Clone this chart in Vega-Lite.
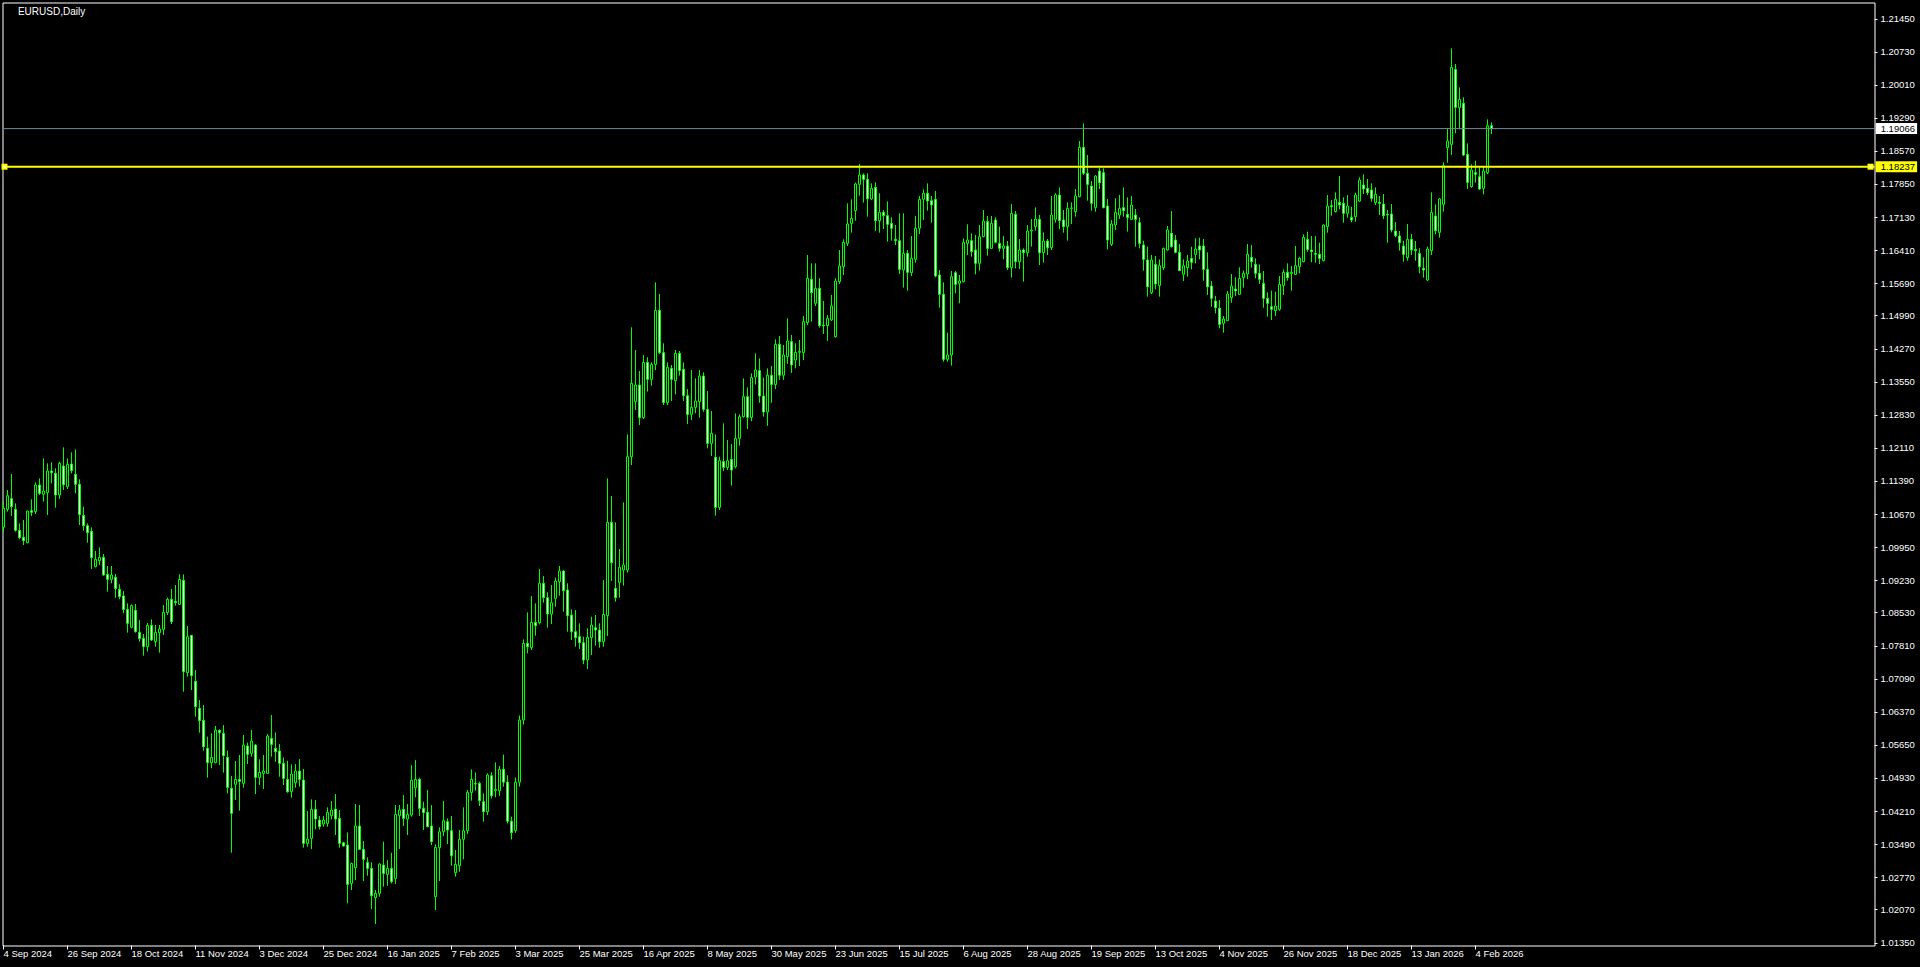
{
"$schema": "https://vega.github.io/schema/vega-lite/v6.json",
"width": 1872,
"height": 943,
"autosize": {"type": "none"},
"padding": {"left": 2.5, "top": 2.5, "right": 45.5, "bottom": 21.5},
"background": "#000000",
"config": {"view": {"stroke": "#ffffff", "strokeWidth": 1, "fill": "#000000"}, "scale": {"continuousPadding": 0}, "axis": {"labelOverlap": false, "labelFlush": false, "labelBound": false}},
"datasets": {
"ohlc": [
{"i":0,"o":1.10392,"h":1.10951,"l":1.10298,"c":1.10806},
{"i":1,"o":1.10784,"h":1.11204,"l":1.10733,"c":1.11081},
{"i":2,"o":1.11016,"h":1.11552,"l":1.10639,"c":1.10842},
{"i":3,"o":1.10784,"h":1.10914,"l":1.10298,"c":1.10327},
{"i":4,"o":1.10327,"h":1.10479,"l":1.10131,"c":1.10167},
{"i":5,"o":1.10175,"h":1.10552,"l":1.10008,"c":1.10102},
{"i":6,"o":1.10059,"h":1.10755,"l":1.10044,"c":1.10747},
{"i":7,"o":1.10755,"h":1.11001,"l":1.10639,"c":1.10719},
{"i":8,"o":1.10733,"h":1.11371,"l":1.10682,"c":1.11313},
{"i":9,"o":1.11313,"h":1.11458,"l":1.11096,"c":1.11132},
{"i":10,"o":1.1111,"h":1.11893,"l":1.10951,"c":1.11183},
{"i":11,"o":1.11146,"h":1.11784,"l":1.10661,"c":1.11618},
{"i":12,"o":1.11618,"h":1.11806,"l":1.11349,"c":1.11581},
{"i":13,"o":1.11567,"h":1.11676,"l":1.1082,"c":1.11096},
{"i":14,"o":1.11096,"h":1.11821,"l":1.11009,"c":1.11784},
{"i":15,"o":1.11726,"h":1.12132,"l":1.11204,"c":1.1132},
{"i":16,"o":1.11277,"h":1.11893,"l":1.11226,"c":1.11763},
{"i":17,"o":1.1177,"h":1.12024,"l":1.11567,"c":1.11625},
{"i":18,"o":1.11545,"h":1.12089,"l":1.11132,"c":1.11328},
{"i":19,"o":1.11328,"h":1.11436,"l":1.10443,"c":1.10668},
{"i":20,"o":1.10653,"h":1.10842,"l":1.1032,"c":1.10428},
{"i":21,"o":1.10428,"h":1.10479,"l":1.10059,"c":1.10276},
{"i":22,"o":1.10305,"h":1.10392,"l":1.09486,"c":1.09732},
{"i":23,"o":1.09537,"h":1.09877,"l":1.0952,"c":1.09696},
{"i":24,"o":1.09667,"h":1.09957,"l":1.09573,"c":1.0974},
{"i":25,"o":1.0974,"h":1.09812,"l":1.09341,"c":1.09355},
{"i":26,"o":1.0937,"h":1.09551,"l":1.08993,"c":1.09261},
{"i":27,"o":1.09261,"h":1.09551,"l":1.09174,"c":1.09355},
{"i":28,"o":1.09305,"h":1.09377,"l":1.08862,"c":1.09058},
{"i":29,"o":1.09044,"h":1.09152,"l":1.08826,"c":1.08884},
{"i":30,"o":1.08899,"h":1.09007,"l":1.08521,"c":1.08608},
{"i":31,"o":1.08608,"h":1.08739,"l":1.08101,"c":1.08304},
{"i":32,"o":1.08217,"h":1.08717,"l":1.08195,"c":1.08688},
{"i":33,"o":1.08587,"h":1.08725,"l":1.08101,"c":1.08123},
{"i":34,"o":1.08108,"h":1.08376,"l":1.07905,"c":1.0797},
{"i":35,"o":1.07978,"h":1.08072,"l":1.07601,"c":1.07796},
{"i":36,"o":1.07796,"h":1.08311,"l":1.07688,"c":1.0826},
{"i":37,"o":1.0826,"h":1.08391,"l":1.0792,"c":1.07941},
{"i":38,"o":1.07905,"h":1.08268,"l":1.07796,"c":1.08108},
{"i":39,"o":1.08101,"h":1.08268,"l":1.07666,"c":1.08181},
{"i":40,"o":1.08173,"h":1.08703,"l":1.0805,"c":1.08543},
{"i":41,"o":1.08536,"h":1.08862,"l":1.08485,"c":1.08826},
{"i":42,"o":1.08826,"h":1.09051,"l":1.08289,"c":1.0834},
{"i":43,"o":1.08783,"h":1.09138,"l":1.08688,"c":1.08754},
{"i":44,"o":1.08717,"h":1.0937,"l":1.08703,"c":1.09261},
{"i":45,"o":1.09239,"h":1.0937,"l":1.06817,"c":1.07252},
{"i":46,"o":1.07231,"h":1.08246,"l":1.07144,"c":1.08014},
{"i":47,"o":1.08043,"h":1.0805,"l":1.06854,"c":1.07166},
{"i":48,"o":1.07042,"h":1.07289,"l":1.06274,"c":1.06491},
{"i":49,"o":1.06455,"h":1.06636,"l":1.05926,"c":1.06187},
{"i":50,"o":1.06194,"h":1.06527,"l":1.05534,"c":1.05621},
{"i":51,"o":1.05585,"h":1.05839,"l":1.04947,"c":1.05273},
{"i":52,"o":1.05273,"h":1.05911,"l":1.0515,"c":1.05389},
{"i":53,"o":1.05273,"h":1.06071,"l":1.0526,"c":1.05984},
{"i":54,"o":1.05976,"h":1.05998,"l":1.05222,"c":1.05926},
{"i":55,"o":1.05911,"h":1.06092,"l":1.05056,"c":1.05425},
{"i":56,"o":1.05389,"h":1.05534,"l":1.04606,"c":1.04736},
{"i":57,"o":1.04715,"h":1.04983,"l":1.03315,"c":1.04171},
{"i":58,"o":1.04802,"h":1.05309,"l":1.04461,"c":1.0491},
{"i":59,"o":1.0491,"h":1.0544,"l":1.04229,"c":1.04867},
{"i":60,"o":1.04823,"h":1.05875,"l":1.04729,"c":1.05657},
{"i":61,"o":1.05636,"h":1.05708,"l":1.05244,"c":1.05454},
{"i":62,"o":1.05475,"h":1.05983,"l":1.05403,"c":1.05744},
{"i":63,"o":1.05657,"h":1.05678,"l":1.04591,"c":1.04953},
{"i":64,"o":1.04953,"h":1.05345,"l":1.04786,"c":1.05062},
{"i":65,"o":1.0504,"h":1.05439,"l":1.04699,"c":1.05091},
{"i":66,"o":1.0504,"h":1.05896,"l":1.05026,"c":1.05852},
{"i":67,"o":1.05802,"h":1.06309,"l":1.05403,"c":1.05671},
{"i":68,"o":1.05584,"h":1.05932,"l":1.05294,"c":1.05511},
{"i":69,"o":1.05526,"h":1.05678,"l":1.04968,"c":1.05258},
{"i":70,"o":1.05258,"h":1.05388,"l":1.04786,"c":1.04931},
{"i":71,"o":1.0491,"h":1.05316,"l":1.0462,"c":1.04641},
{"i":72,"o":1.04641,"h":1.05236,"l":1.04511,"c":1.05026},
{"i":73,"o":1.04837,"h":1.05243,"l":1.04728,"c":1.05091},
{"i":74,"o":1.05091,"h":1.05352,"l":1.0475,"c":1.0491},
{"i":75,"o":1.04895,"h":1.05135,"l":1.03423,"c":1.03518},
{"i":76,"o":1.03518,"h":1.04221,"l":1.03445,"c":1.03612},
{"i":77,"o":1.03626,"h":1.04475,"l":1.03394,"c":1.04257},
{"i":78,"o":1.04257,"h":1.0446,"l":1.03822,"c":1.04047},
{"i":79,"o":1.04025,"h":1.04112,"l":1.03822,"c":1.0388},
{"i":80,"o":1.03938,"h":1.04112,"l":1.0388,"c":1.04025},
{"i":81,"o":1.03953,"h":1.04301,"l":1.0388,"c":1.04192},
{"i":82,"o":1.04119,"h":1.04438,"l":1.0404,"c":1.04243},
{"i":83,"o":1.04264,"h":1.04591,"l":1.03699,"c":1.04047},
{"i":84,"o":1.04061,"h":1.04243,"l":1.03423,"c":1.03518},
{"i":85,"o":1.03532,"h":1.0355,"l":1.0345,"c":1.0346},
{"i":86,"o":1.03481,"h":1.03757,"l":1.02212,"c":1.02626},
{"i":87,"o":1.02647,"h":1.03097,"l":1.02502,"c":1.03082},
{"i":88,"o":1.02988,"h":1.04373,"l":1.0272,"c":1.03895},
{"i":89,"o":1.03895,"h":1.04351,"l":1.03373,"c":1.03387},
{"i":90,"o":1.03387,"h":1.03568,"l":1.02698,"c":1.03169},
{"i":91,"o":1.03104,"h":1.03213,"l":1.02814,"c":1.02974},
{"i":92,"o":1.02974,"h":1.03104,"l":1.02089,"c":1.02379},
{"i":93,"o":1.02336,"h":1.02502,"l":1.01763,"c":1.0243},
{"i":94,"o":1.0243,"h":1.03082,"l":1.02357,"c":1.03068},
{"i":95,"o":1.03046,"h":1.03554,"l":1.02575,"c":1.02865},
{"i":96,"o":1.02843,"h":1.03155,"l":1.02597,"c":1.02974},
{"i":97,"o":1.02974,"h":1.03315,"l":1.02647,"c":1.02684},
{"i":98,"o":1.02756,"h":1.04351,"l":1.02633,"c":1.04148},
{"i":99,"o":1.04119,"h":1.04351,"l":1.03394,"c":1.04243},
{"i":100,"o":1.04257,"h":1.04569,"l":1.03895,"c":1.04061},
{"i":101,"o":1.04047,"h":1.04373,"l":1.03699,"c":1.04148},
{"i":102,"o":1.04134,"h":1.05221,"l":1.04098,"c":1.04895},
{"i":103,"o":1.04728,"h":1.0533,"l":1.04518,"c":1.0491},
{"i":104,"o":1.0491,"h":1.04946,"l":1.04112,"c":1.04279},
{"i":105,"o":1.04279,"h":1.04424,"l":1.03808,"c":1.04185},
{"i":106,"o":1.04192,"h":1.04678,"l":1.03866,"c":1.0388},
{"i":107,"o":1.03895,"h":1.04351,"l":1.03481,"c":1.03554},
{"i":108,"o":1.02357,"h":1.03496,"l":1.02067,"c":1.03431},
{"i":109,"o":1.03423,"h":1.03866,"l":1.02698,"c":1.03771},
{"i":110,"o":1.03771,"h":1.04438,"l":1.03677,"c":1.04011},
{"i":111,"o":1.03989,"h":1.04061,"l":1.03503,"c":1.03808},
{"i":112,"o":1.03793,"h":1.04112,"l":1.03032,"c":1.03249},
{"i":113,"o":1.02879,"h":1.03373,"l":1.02792,"c":1.03061},
{"i":114,"o":1.03032,"h":1.03808,"l":1.02901,"c":1.03605},
{"i":115,"o":1.03605,"h":1.04301,"l":1.03169,"c":1.03793},
{"i":116,"o":1.03793,"h":1.04678,"l":1.03721,"c":1.04627},
{"i":117,"o":1.04627,"h":1.05127,"l":1.04446,"c":1.0491},
{"i":118,"o":1.04823,"h":1.05062,"l":1.04663,"c":1.04808},
{"i":119,"o":1.04823,"h":1.04859,"l":1.0433,"c":1.04446},
{"i":120,"o":1.04424,"h":1.04605,"l":1.03989,"c":1.04206},
{"i":121,"o":1.04206,"h":1.0504,"l":1.04134,"c":1.05004},
{"i":122,"o":1.04989,"h":1.05062,"l":1.04496,"c":1.04554},
{"i":123,"o":1.04663,"h":1.0528,"l":1.04518,"c":1.04692},
{"i":124,"o":1.04663,"h":1.052,"l":1.04547,"c":1.05127},
{"i":125,"o":1.0513,"h":1.0545,"l":1.0475,"c":1.0485},
{"i":126,"o":1.0485,"h":1.05,"l":1.0395,"c":1.04},
{"i":127,"o":1.04,"h":1.041,"l":1.036,"c":1.0375},
{"i":128,"o":1.038,"h":1.0495,"l":1.0375,"c":1.0485},
{"i":129,"o":1.0485,"h":1.063,"l":1.0475,"c":1.062},
{"i":130,"o":1.062,"h":1.07956,"l":1.061,"c":1.07869},
{"i":131,"o":1.07869,"h":1.08543,"l":1.07651,"c":1.07796},
{"i":132,"o":1.07774,"h":1.08898,"l":1.07724,"c":1.08325},
{"i":133,"o":1.08325,"h":1.08739,"l":1.08035,"c":1.08253},
{"i":134,"o":1.08318,"h":1.09486,"l":1.08282,"c":1.09174},
{"i":135,"o":1.09174,"h":1.09333,"l":1.08753,"c":1.08862},
{"i":136,"o":1.08862,"h":1.08978,"l":1.08209,"c":1.08507},
{"i":137,"o":1.08507,"h":1.09138,"l":1.08289,"c":1.08753},
{"i":138,"o":1.08848,"h":1.09297,"l":1.08666,"c":1.09225},
{"i":139,"o":1.0921,"h":1.09551,"l":1.08906,"c":1.09442},
{"i":140,"o":1.09442,"h":1.09464,"l":1.08557,"c":1.09014},
{"i":141,"o":1.09029,"h":1.09174,"l":1.08122,"c":1.0847},
{"i":142,"o":1.08485,"h":1.08608,"l":1.07941,"c":1.08122},
{"i":143,"o":1.08122,"h":1.08594,"l":1.07796,"c":1.07992},
{"i":144,"o":1.08014,"h":1.08304,"l":1.07745,"c":1.07883},
{"i":145,"o":1.07883,"h":1.08014,"l":1.07419,"c":1.07506},
{"i":146,"o":1.07506,"h":1.08195,"l":1.0731,"c":1.07999},
{"i":147,"o":1.07992,"h":1.08449,"l":1.07615,"c":1.08267},
{"i":148,"o":1.08209,"h":1.08485,"l":1.07818,"c":1.08159},
{"i":149,"o":1.08159,"h":1.08304,"l":1.07774,"c":1.07905},
{"i":150,"o":1.07905,"h":1.09246,"l":1.07796,"c":1.08499},
{"i":151,"o":1.0847,"h":1.11458,"l":1.08028,"c":1.10501},
{"i":152,"o":1.10501,"h":1.11074,"l":1.09225,"c":1.09623},
{"i":153,"o":1.09065,"h":1.10501,"l":1.08775,"c":1.08862},
{"i":154,"o":1.09196,"h":1.09921,"l":1.08862,"c":1.09522},
{"i":155,"o":1.09464,"h":1.10936,"l":1.09123,"c":1.09573},
{"i":156,"o":1.09464,"h":1.12415,"l":1.09406,"c":1.11929},
{"i":157,"o":1.11929,"h":1.14743,"l":1.11748,"c":1.13524},
{"i":158,"o":1.13126,"h":1.1425,"l":1.12944,"c":1.13488},
{"i":159,"o":1.13488,"h":1.13793,"l":1.12618,"c":1.12778},
{"i":160,"o":1.12778,"h":1.14141,"l":1.12749,"c":1.13981},
{"i":161,"o":1.13981,"h":1.1409,"l":1.13343,"c":1.13611},
{"i":162,"o":1.13611,"h":1.13981,"l":1.13474,"c":1.13938},
{"i":163,"o":1.13938,"h":1.15721,"l":1.13814,"c":1.15112},
{"i":164,"o":1.15112,"h":1.15468,"l":1.14162,"c":1.14192},
{"i":165,"o":1.14192,"h":1.14395,"l":1.13053,"c":1.13104},
{"i":166,"o":1.13104,"h":1.13981,"l":1.13053,"c":1.13872},
{"i":167,"o":1.13851,"h":1.13923,"l":1.1314,"c":1.13611},
{"i":168,"o":1.13582,"h":1.1425,"l":1.13285,"c":1.14177},
{"i":169,"o":1.14177,"h":1.14228,"l":1.13691,"c":1.138},
{"i":170,"o":1.13829,"h":1.13981,"l":1.1314,"c":1.13256},
{"i":171,"o":1.13256,"h":1.13401,"l":1.1264,"c":1.1285},
{"i":172,"o":1.1285,"h":1.13814,"l":1.12727,"c":1.13002},
{"i":173,"o":1.13002,"h":1.13633,"l":1.12872,"c":1.1314},
{"i":174,"o":1.13126,"h":1.13814,"l":1.12778,"c":1.13684},
{"i":175,"o":1.13684,"h":1.13764,"l":1.12908,"c":1.12959},
{"i":176,"o":1.12959,"h":1.13358,"l":1.1211,"c":1.12219},
{"i":177,"o":1.12219,"h":1.12923,"l":1.11944,"c":1.12437},
{"i":178,"o":1.11915,"h":1.12415,"l":1.10646,"c":1.10827},
{"i":179,"o":1.10827,"h":1.11929,"l":1.10769,"c":1.11842},
{"i":180,"o":1.1182,"h":1.12654,"l":1.11617,"c":1.11697},
{"i":181,"o":1.11697,"h":1.12292,"l":1.11639,"c":1.11842},
{"i":182,"o":1.11871,"h":1.12205,"l":1.11298,"c":1.11639},
{"i":183,"o":1.11712,"h":1.12872,"l":1.11675,"c":1.12328},
{"i":184,"o":1.12328,"h":1.1285,"l":1.12168,"c":1.12799},
{"i":185,"o":1.12799,"h":1.13633,"l":1.12778,"c":1.13234},
{"i":186,"o":1.13234,"h":1.13437,"l":1.12531,"c":1.12785},
{"i":187,"o":1.12785,"h":1.13742,"l":1.127,"c":1.1365},
{"i":188,"o":1.1366,"h":1.14177,"l":1.135,"c":1.13815},
{"i":189,"o":1.13801,"h":1.14069,"l":1.131,"c":1.1325},
{"i":190,"o":1.1325,"h":1.1365,"l":1.128,"c":1.129},
{"i":191,"o":1.129,"h":1.13851,"l":1.126,"c":1.137},
{"i":192,"o":1.137,"h":1.13902,"l":1.131,"c":1.135},
{"i":193,"o":1.135,"h":1.14482,"l":1.134,"c":1.14373},
{"i":194,"o":1.14373,"h":1.14554,"l":1.136,"c":1.137},
{"i":195,"o":1.137,"h":1.14359,"l":1.136,"c":1.14141},
{"i":196,"o":1.14105,"h":1.14939,"l":1.1395,"c":1.14446},
{"i":197,"o":1.14431,"h":1.14576,"l":1.1375,"c":1.13924},
{"i":198,"o":1.14032,"h":1.14395,"l":1.1385,"c":1.14199},
{"i":199,"o":1.142,"h":1.14467,"l":1.139,"c":1.1422},
{"i":200,"o":1.14192,"h":1.1499,"l":1.14032,"c":1.14866},
{"i":201,"o":1.14845,"h":1.16316,"l":1.14794,"c":1.15809},
{"i":202,"o":1.15787,"h":1.16135,"l":1.14866,"c":1.15497},
{"i":203,"o":1.15265,"h":1.16135,"l":1.15207,"c":1.15591},
{"i":204,"o":1.15591,"h":1.15809,"l":1.14736,"c":1.14779},
{"i":205,"o":1.14793,"h":1.15316,"l":1.14598,"c":1.14779},
{"i":206,"o":1.14779,"h":1.15011,"l":1.14446,"c":1.14939},
{"i":207,"o":1.14903,"h":1.15446,"l":1.14881,"c":1.15207},
{"i":208,"o":1.1454,"h":1.15809,"l":1.14518,"c":1.15751},
{"i":209,"o":1.15736,"h":1.16425,"l":1.15686,"c":1.16077},
{"i":210,"o":1.16063,"h":1.16657,"l":1.15881,"c":1.16592},
{"i":211,"o":1.1657,"h":1.1744,"l":1.16512,"c":1.16991},
{"i":212,"o":1.17005,"h":1.17527,"l":1.16802,"c":1.17114},
{"i":213,"o":1.17281,"h":1.1789,"l":1.17063,"c":1.17861},
{"i":214,"o":1.17854,"h":1.18296,"l":1.17607,"c":1.18057},
{"i":215,"o":1.18057,"h":1.18093,"l":1.17455,"c":1.17962},
{"i":216,"o":1.17962,"h":1.18093,"l":1.1715,"c":1.17542},
{"i":217,"o":1.17535,"h":1.17875,"l":1.17513,"c":1.17767},
{"i":218,"o":1.17788,"h":1.17897,"l":1.16838,"c":1.17063},
{"i":219,"o":1.17063,"h":1.17658,"l":1.16802,"c":1.17245},
{"i":220,"o":1.17245,"h":1.17295,"l":1.16882,"c":1.17172},
{"i":221,"o":1.17172,"h":1.17484,"l":1.16607,"c":1.16984},
{"i":222,"o":1.17005,"h":1.17136,"l":1.16628,"c":1.16897},
{"i":223,"o":1.16657,"h":1.16969,"l":1.16534,"c":1.16628},
{"i":224,"o":1.16628,"h":1.17223,"l":1.15903,"c":1.16005},
{"i":225,"o":1.1599,"h":1.17223,"l":1.15606,"c":1.16353},
{"i":226,"o":1.16353,"h":1.16425,"l":1.15541,"c":1.15939},
{"i":227,"o":1.15932,"h":1.1673,"l":1.1586,"c":1.16244},
{"i":228,"o":1.16222,"h":1.17165,"l":1.1615,"c":1.16897},
{"i":229,"o":1.16897,"h":1.176,"l":1.16773,"c":1.17527},
{"i":230,"o":1.17527,"h":1.17745,"l":1.17078,"c":1.17658},
{"i":231,"o":1.17658,"h":1.17875,"l":1.17281,"c":1.17491},
{"i":232,"o":1.17498,"h":1.176,"l":1.1702,"c":1.17404},
{"i":233,"o":1.17527,"h":1.17709,"l":1.15831,"c":1.1586},
{"i":234,"o":1.15881,"h":1.1599,"l":1.15171,"c":1.15461},
{"i":235,"o":1.15461,"h":1.15722,"l":1.13996,"c":1.14047},
{"i":236,"o":1.14047,"h":1.14627,"l":1.13996,"c":1.14141},
{"i":237,"o":1.14141,"h":1.15968,"l":1.13909,"c":1.15845},
{"i":238,"o":1.15932,"h":1.15968,"l":1.15483,"c":1.15678},
{"i":239,"o":1.157,"h":1.15881,"l":1.15265,"c":1.15751},
{"i":240,"o":1.15736,"h":1.16679,"l":1.1572,"c":1.16592},
{"i":241,"o":1.1657,"h":1.16984,"l":1.16316,"c":1.16643},
{"i":242,"o":1.16628,"h":1.16788,"l":1.1628,"c":1.16389},
{"i":243,"o":1.16425,"h":1.16752,"l":1.15896,"c":1.16135},
{"i":244,"o":1.16135,"h":1.16969,"l":1.15976,"c":1.16715},
{"i":245,"o":1.16715,"h":1.17295,"l":1.16701,"c":1.17056},
{"i":246,"o":1.17042,"h":1.17165,"l":1.16302,"c":1.16461},
{"i":247,"o":1.16461,"h":1.17165,"l":1.16455,"c":1.17005},
{"i":248,"o":1.17078,"h":1.17136,"l":1.1657,"c":1.16592},
{"i":249,"o":1.1657,"h":1.16933,"l":1.16389,"c":1.16461},
{"i":250,"o":1.16461,"h":1.1673,"l":1.16222,"c":1.16512},
{"i":251,"o":1.16512,"h":1.16621,"l":1.1599,"c":1.16041},
{"i":252,"o":1.16041,"h":1.17426,"l":1.15823,"c":1.17223},
{"i":253,"o":1.17201,"h":1.17273,"l":1.16026,"c":1.16171},
{"i":254,"o":1.16171,"h":1.16664,"l":1.16012,"c":1.16425},
{"i":255,"o":1.16425,"h":1.16461,"l":1.15736,"c":1.16367},
{"i":256,"o":1.16367,"h":1.16969,"l":1.1628,"c":1.16838},
{"i":257,"o":1.16838,"h":1.17099,"l":1.16498,"c":1.1686},
{"i":258,"o":1.16933,"h":1.17353,"l":1.16846,"c":1.17099},
{"i":259,"o":1.17092,"h":1.17186,"l":1.16099,"c":1.16367},
{"i":260,"o":1.16367,"h":1.16809,"l":1.1615,"c":1.16621},
{"i":261,"o":1.16621,"h":1.16664,"l":1.16316,"c":1.16476},
{"i":262,"o":1.16476,"h":1.176,"l":1.16425,"c":1.17186},
{"i":263,"o":1.17092,"h":1.17658,"l":1.1702,"c":1.17622},
{"i":264,"o":1.17622,"h":1.17788,"l":1.16875,"c":1.17063},
{"i":265,"o":1.17078,"h":1.17295,"l":1.16802,"c":1.16933},
{"i":266,"o":1.16933,"h":1.17462,"l":1.16628,"c":1.17331},
{"i":267,"o":1.17331,"h":1.17462,"l":1.16991,"c":1.1734},
{"i":268,"o":1.17259,"h":1.17752,"l":1.1715,"c":1.176},
{"i":269,"o":1.17585,"h":1.18796,"l":1.17571,"c":1.18658},
{"i":270,"o":1.18658,"h":1.1918,"l":1.18057,"c":1.18093},
{"i":271,"o":1.18093,"h":1.18492,"l":1.17498,"c":1.17854},
{"i":272,"o":1.17817,"h":1.17926,"l":1.17281,"c":1.1744},
{"i":273,"o":1.17346,"h":1.1805,"l":1.17259,"c":1.18035},
{"i":274,"o":1.18144,"h":1.18216,"l":1.17752,"c":1.1789},
{"i":275,"o":1.18107,"h":1.18202,"l":1.17331,"c":1.17346},
{"i":276,"o":1.17382,"h":1.17535,"l":1.1644,"c":1.16643},
{"i":277,"o":1.16548,"h":1.17078,"l":1.16512,"c":1.16991},
{"i":278,"o":1.16969,"h":1.17549,"l":1.1686,"c":1.17244},
{"i":279,"o":1.17186,"h":1.17622,"l":1.17099,"c":1.17331},
{"i":280,"o":1.17346,"h":1.17788,"l":1.1715,"c":1.17281},
{"i":281,"o":1.17201,"h":1.17571,"l":1.16824,"c":1.17128},
{"i":282,"o":1.17092,"h":1.176,"l":1.17078,"c":1.17404},
{"i":283,"o":1.17186,"h":1.17317,"l":1.16498,"c":1.17092},
{"i":284,"o":1.1702,"h":1.17136,"l":1.16461,"c":1.1657},
{"i":285,"o":1.16534,"h":1.16628,"l":1.15976,"c":1.16222},
{"i":286,"o":1.16208,"h":1.16498,"l":1.1541,"c":1.15627},
{"i":287,"o":1.15497,"h":1.16316,"l":1.15468,"c":1.16208},
{"i":288,"o":1.16113,"h":1.16295,"l":1.15569,"c":1.15686},
{"i":289,"o":1.15649,"h":1.16222,"l":1.1541,"c":1.16084},
{"i":290,"o":1.16041,"h":1.16476,"l":1.1599,"c":1.16461},
{"i":291,"o":1.16425,"h":1.16947,"l":1.16411,"c":1.1686},
{"i":292,"o":1.16788,"h":1.17273,"l":1.16476,"c":1.16498},
{"i":293,"o":1.16643,"h":1.16751,"l":1.16353,"c":1.16374},
{"i":294,"o":1.16374,"h":1.16556,"l":1.15968,"c":1.15976},
{"i":295,"o":1.15896,"h":1.16222,"l":1.15751,"c":1.16084},
{"i":296,"o":1.16041,"h":1.16316,"l":1.15845,"c":1.16186},
{"i":297,"o":1.16244,"h":1.16498,"l":1.16005,"c":1.16157},
{"i":298,"o":1.16331,"h":1.16679,"l":1.16135,"c":1.16447},
{"i":299,"o":1.16512,"h":1.16693,"l":1.16222,"c":1.16425},
{"i":300,"o":1.16512,"h":1.16664,"l":1.15758,"c":1.16005},
{"i":301,"o":1.16005,"h":1.16374,"l":1.15446,"c":1.15627},
{"i":302,"o":1.15642,"h":1.15751,"l":1.15192,"c":1.15374},
{"i":303,"o":1.15316,"h":1.15424,"l":1.15047,"c":1.15171},
{"i":304,"o":1.15156,"h":1.15337,"l":1.14721,"c":1.14808},
{"i":305,"o":1.1483,"h":1.14989,"l":1.14627,"c":1.14924},
{"i":306,"o":1.14888,"h":1.15533,"l":1.14881,"c":1.15468},
{"i":307,"o":1.15388,"h":1.15903,"l":1.15279,"c":1.15642},
{"i":308,"o":1.15577,"h":1.15831,"l":1.15424,"c":1.15533},
{"i":309,"o":1.15461,"h":1.16048,"l":1.15446,"c":1.15809},
{"i":310,"o":1.15823,"h":1.15976,"l":1.15606,"c":1.15918},
{"i":311,"o":1.15903,"h":1.16556,"l":1.1579,"c":1.16331},
{"i":312,"o":1.16265,"h":1.16534,"l":1.16041,"c":1.16171},
{"i":313,"o":1.16113,"h":1.16244,"l":1.15808,"c":1.15917},
{"i":314,"o":1.15917,"h":1.16113,"l":1.15685,"c":1.15787},
{"i":315,"o":1.157,"h":1.15968,"l":1.1517,"c":1.15373},
{"i":316,"o":1.15373,"h":1.15504,"l":1.14975,"c":1.15265},
{"i":317,"o":1.15192,"h":1.1554,"l":1.14902,"c":1.15134},
{"i":318,"o":1.15105,"h":1.15519,"l":1.14989,"c":1.15207},
{"i":319,"o":1.15134,"h":1.15859,"l":1.15105,"c":1.15678},
{"i":320,"o":1.15649,"h":1.16004,"l":1.15446,"c":1.15939},
{"i":321,"o":1.15939,"h":1.16135,"l":1.15758,"c":1.15823},
{"i":322,"o":1.15917,"h":1.16077,"l":1.1554,"c":1.15939},
{"i":323,"o":1.15895,"h":1.16512,"l":1.15881,"c":1.16084},
{"i":324,"o":1.16062,"h":1.1628,"l":1.15917,"c":1.16244},
{"i":325,"o":1.16171,"h":1.16766,"l":1.1616,"c":1.167},
{"i":326,"o":1.16657,"h":1.16824,"l":1.16389,"c":1.16439},
{"i":327,"o":1.16425,"h":1.16729,"l":1.16157,"c":1.16389},
{"i":328,"o":1.16352,"h":1.16729,"l":1.16149,"c":1.16331},
{"i":329,"o":1.16331,"h":1.16584,"l":1.1612,"c":1.16244},
{"i":330,"o":1.16193,"h":1.16983,"l":1.1618,"c":1.16969},
{"i":331,"o":1.16932,"h":1.17621,"l":1.16802,"c":1.17382},
{"i":332,"o":1.17389,"h":1.17513,"l":1.17172,"c":1.17367},
{"i":333,"o":1.17259,"h":1.17679,"l":1.17244,"c":1.17527},
{"i":334,"o":1.17462,"h":1.18035,"l":1.17309,"c":1.17404},
{"i":335,"o":1.1744,"h":1.17571,"l":1.17019,"c":1.17222},
{"i":336,"o":1.17222,"h":1.17621,"l":1.17128,"c":1.17382},
{"i":337,"o":1.17135,"h":1.17367,"l":1.17027,"c":1.17077},
{"i":338,"o":1.1715,"h":1.17672,"l":1.17041,"c":1.17621},
{"i":339,"o":1.17491,"h":1.18006,"l":1.17476,"c":1.17948},
{"i":340,"o":1.17839,"h":1.18071,"l":1.17643,"c":1.17752},
{"i":341,"o":1.17766,"h":1.17969,"l":1.17621,"c":1.17672},
{"i":342,"o":1.1773,"h":1.17875,"l":1.17476,"c":1.17549},
{"i":343,"o":1.17455,"h":1.17788,"l":1.17404,"c":1.17636},
{"i":344,"o":1.17462,"h":1.176,"l":1.17186,"c":1.1744},
{"i":345,"o":1.17426,"h":1.17643,"l":1.17099,"c":1.17172},
{"i":346,"o":1.17201,"h":1.17295,"l":1.16584,"c":1.17186},
{"i":347,"o":1.17208,"h":1.17426,"l":1.16809,"c":1.1686},
{"i":348,"o":1.16838,"h":1.17034,"l":1.167,"c":1.16737},
{"i":349,"o":1.16729,"h":1.16838,"l":1.1641,"c":1.16584},
{"i":350,"o":1.16512,"h":1.16628,"l":1.16171,"c":1.16331},
{"i":351,"o":1.16258,"h":1.1699,"l":1.16193,"c":1.16657},
{"i":352,"o":1.16657,"h":1.16773,"l":1.16316,"c":1.16425},
{"i":353,"o":1.16439,"h":1.16621,"l":1.16193,"c":1.1641},
{"i":354,"o":1.16352,"h":1.16461,"l":1.15917,"c":1.16062},
{"i":355,"o":1.16026,"h":1.16265,"l":1.15823,"c":1.1599},
{"i":356,"o":1.15772,"h":1.16497,"l":1.1575,"c":1.16447},
{"i":357,"o":1.1641,"h":1.17679,"l":1.16316,"c":1.17244},
{"i":358,"o":1.17164,"h":1.17418,"l":1.16766,"c":1.16845},
{"i":359,"o":1.16809,"h":1.17549,"l":1.16693,"c":1.17534},
{"i":360,"o":1.17418,"h":1.18332,"l":1.17259,"c":1.18259},
{"i":361,"o":1.18651,"h":1.19071,"l":1.18325,"c":1.18796},
{"i":362,"o":1.18723,"h":1.20812,"l":1.18491,"c":1.20398},
{"i":363,"o":1.20355,"h":1.20471,"l":1.18963,"c":1.19528},
{"i":364,"o":1.19521,"h":1.19963,"l":1.1905,"c":1.19702},
{"i":365,"o":1.19615,"h":1.19746,"l":1.1847,"c":1.18491},
{"i":366,"o":1.18506,"h":1.18745,"l":1.17752,"c":1.17897},
{"i":367,"o":1.17803,"h":1.18288,"l":1.17781,"c":1.18165},
{"i":368,"o":1.18107,"h":1.18368,"l":1.1789,"c":1.18071},
{"i":369,"o":1.1802,"h":1.18223,"l":1.1773,"c":1.17752},
{"i":370,"o":1.17766,"h":1.18252,"l":1.17636,"c":1.18143},
{"i":371,"o":1.18107,"h":1.19267,"l":1.18078,"c":1.19129},
{"i":372,"o":1.19129,"h":1.19202,"l":1.18948,"c":1.19066}
],
"lines": [{"name": "bid", "price": 1.19066, "label": "1.19066"}, {"name": "level", "price": 1.18237, "label": "1.18237"}],
"handles": [{"i": 0.25, "price": 1.18237}, {"i": 466.75, "price": 1.18237}],
"caption": [{"text": "EURUSD,Daily"}]
},
"layer": [
{
"data": {"name": "ohlc"},
"mark": {"type": "rule", "color": "#00ff00", "strokeWidth": 1},
"encoding": {
"x": {"field": "i", "type": "quantitative", "scale": {"domain": [-0.25, 467.75], "nice": false, "zero": false, "padding": 0},
"axis": {"orient": "bottom", "title": null, "tickCount": 60, "values": [0,16,32,48,64,80,96,112,128,144,160,176,192,208,224,240,256,272,288,304,320,336,352,368],
"labelExpr": "['4 Sep 2024','26 Sep 2024','18 Oct 2024','11 Nov 2024','3 Dec 2024','25 Dec 2024','16 Jan 2025','7 Feb 2025','3 Mar 2025','25 Mar 2025','16 Apr 2025','8 May 2025','30 May 2025','23 Jun 2025','15 Jul 2025','6 Aug 2025','28 Aug 2025','19 Sep 2025','13 Oct 2025','4 Nov 2025','26 Nov 2025','18 Dec 2025','13 Jan 2026','4 Feb 2026'][round(datum.value/16)]",
"domain": false, "grid": false, "translate": 0, "ticks": true, "tickColor": "#ffffff", "tickSize": 4, "tickWidth": 1,
"labelColor": "#ffffff", "labelFont": "Liberation Sans", "labelFontSize": 9.5, "labelAlign": "left", "labelBaseline": "middle", "labelPadding": 4.5, "labelOverlap": false, "labelFlush": false, "labelBound": false}},
"y": {"field": "l", "type": "quantitative", "scale": {"domain": [1.01296, 1.21809], "nice": false, "zero": false, "padding": 0},
"axis": {"orient": "right", "title": null, "tickCount": 60, "values": [1.2145,1.2073,1.2001,1.1929,1.1857,1.1785,1.1713,1.1641,1.1569,1.1499,1.1427,1.1355,1.1283,1.1211,1.1139,1.1067,1.0995,1.0923,1.0853,1.0781,1.0709,1.0637,1.0565,1.0493,1.0421,1.0349,1.0277,1.0207,1.0135],
"format": ".5f", "domain": false, "grid": false, "translate": 0, "tickColor": "#ffffff", "tickSize": 3, "tickWidth": 1,
"labelColor": "#ffffff", "labelFont": "Liberation Sans", "labelFontSize": 9.5, "labelAlign": "left", "labelBaseline": "middle", "labelPadding": 3, "labelOverlap": false, "labelFlush": false, "labelBound": false}},
"y2": {"field": "h"}
}
},
{
"data": {"name": "ohlc"},
"mark": {"type": "bar", "size": 2, "stroke": "#00ff00", "strokeWidth": 1},
"encoding": {
"x": {"field": "i", "type": "quantitative"},
"y": {"field": "o", "type": "quantitative"},
"y2": {"field": "c"},
"fill": {"condition": {"test": "datum.c < datum.o", "value": "#ffffff"}, "value": "#000000"}
}
},
{
"data": {"name": "lines"},
"transform": [{"filter": "datum.name == 'bid'"}],
"mark": {"type": "rule", "color": "#778899", "strokeWidth": 1},
"encoding": {"y": {"field": "price", "type": "quantitative"}}
},
{
"data": {"name": "lines"},
"transform": [{"filter": "datum.name == 'level'"}],
"mark": {"type": "rule", "color": "#ffff00", "strokeWidth": 2},
"encoding": {"y": {"field": "price", "type": "quantitative"}}
},
{
"data": {"name": "handles"},
"mark": {"type": "point", "shape": "square", "filled": true, "size": 36, "color": "#ffff00", "opacity": 1},
"encoding": {"x": {"field": "i", "type": "quantitative"}, "y": {"field": "price", "type": "quantitative"}}
},
{
"data": {"name": "handles"},
"mark": {"type": "point", "shape": "square", "filled": true, "size": 4, "color": "#ffffff", "opacity": 1},
"encoding": {"x": {"field": "i", "type": "quantitative"}, "y": {"field": "price", "type": "quantitative"}}
},
{
"data": {"name": "lines"},
"mark": {"type": "bar", "orient": "horizontal", "size": 11},
"encoding": {
"x": {"datum": 468.05, "type": "quantitative"},
"x2": {"datum": 478.4},
"y": {"field": "price", "type": "quantitative"},
"fill": {"condition": {"test": "datum.name == 'bid'", "value": "#ffffff"}, "value": "#ffff00"}
}
},
{
"data": {"name": "lines"},
"mark": {"type": "text", "align": "left", "baseline": "middle", "font": "Liberation Sans", "fontSize": 9.5, "color": "#000000"},
"encoding": {
"x": {"datum": 469.3, "type": "quantitative"},
"y": {"field": "price", "type": "quantitative"},
"text": {"field": "label"}
}
},
{
"data": {"name": "caption"},
"mark": {"type": "text", "align": "left", "baseline": "middle", "font": "Liberation Sans", "fontSize": 10, "color": "#ffffff"},
"encoding": {
"x": {"datum": 3.6, "type": "quantitative"},
"y": {"datum": 1.21613, "type": "quantitative"},
"text": {"field": "text"}
}
}
]
}
